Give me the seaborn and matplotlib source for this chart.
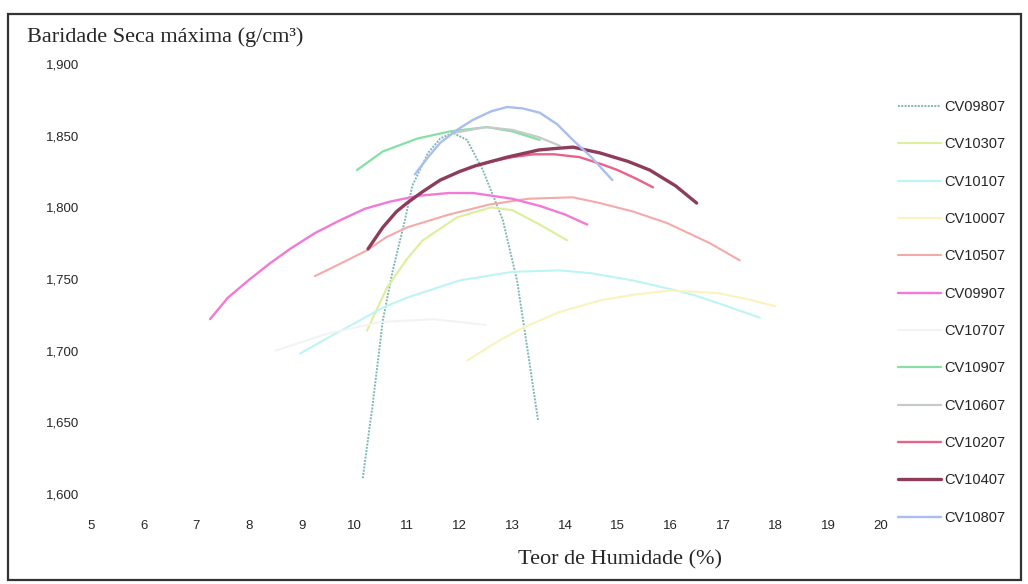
import matplotlib
matplotlib.use('Agg')
import matplotlib.pyplot as plt
from matplotlib.patches import Rectangle
import numpy as np
import pandas as pd
import seaborn as sns

# series, in legend order (x = teor de humidade %, y = baridade seca x1000)
names = ['CV09807', 'CV10307', 'CV10107', 'CV10007', 'CV10507', 'CV09907',
         'CV10707', 'CV10907', 'CV10607', 'CV10207', 'CV10407', 'CV10807']

cv09807_x = [10.16, 10.35, 10.54, 10.73, 10.96, 11.1, 11.4, 11.63, 11.87, 12.14, 12.44, 12.67, 12.82, 13.09, 13.3, 13.49]
cv09807_y = [1611, 1663, 1721, 1756, 1791, 1815, 1838, 1848, 1852, 1847, 1826, 1805, 1791, 1749, 1698, 1651]

cv10307_x = [10.24, 10.62, 11.0, 11.3, 11.95, 12.6, 13.0, 13.52, 14.04]
cv10307_y = [1714, 1744, 1764, 1777, 1793, 1800, 1798, 1788, 1777]

cv10107_x = [8.97, 9.5, 10.0, 10.54, 11.0, 12.0, 13.0, 13.9, 14.5, 15.29, 16.0, 16.43, 17.0, 17.7]
cv10107_y = [1698, 1709, 1719, 1730, 1737, 1749, 1755, 1756, 1754, 1749, 1743, 1739, 1732, 1723]

cv10007_x = [12.14, 12.7, 13.2, 13.9, 14.66, 15.3, 16.0, 16.5, 16.94, 17.57, 18.0]
cv10007_y = [1693, 1706, 1716, 1727, 1735, 1739, 1742, 1741, 1740, 1735, 1731]

cv10507_x = [9.25, 9.75, 10.24, 10.6, 11.0, 11.8, 12.57, 13.3, 14.15, 14.66, 15.3, 15.94, 16.75, 17.32]
cv10507_y = [1752, 1761, 1770, 1779, 1786, 1795, 1802, 1806, 1807, 1803, 1797, 1789, 1775, 1763]

cv09907_x = [7.26, 7.6, 8.02, 8.4, 8.78, 9.25, 9.73, 10.2, 10.68, 11.2, 11.8, 12.25, 13.0, 13.52, 14.0, 14.42]
cv09907_y = [1722, 1737, 1750, 1761, 1771, 1782, 1791, 1799, 1804, 1808, 1810, 1810, 1806, 1801, 1795, 1788]

cv10707_x = [8.5, 9.5, 10.5, 11.5, 12.5]
cv10707_y = [1700, 1712, 1720, 1722, 1718]

cv10907_x = [10.05, 10.54, 11.2, 11.82, 12.52, 13.0, 13.52]
cv10907_y = [1826, 1839, 1848, 1853, 1856, 1853, 1847]

cv10607_x = [11.9, 12.5, 13.0, 13.5, 13.9]
cv10607_y = [1852, 1856, 1854, 1849, 1843]

cv10207_x = [12.2, 12.6, 13.0, 13.4, 13.8, 14.28, 14.7, 15.0, 15.35, 15.67]
cv10207_y = [1828, 1832, 1835, 1837, 1837, 1835, 1830, 1826, 1820, 1814]

cv10407_x = [10.26, 10.54, 10.8, 11.0, 11.3, 11.63, 12.0, 12.3, 12.9, 13.5, 13.8, 14.15, 14.66, 15.2, 15.61, 16.1, 16.5]
cv10407_y = [1771, 1786, 1797, 1803, 1811, 1819, 1825, 1829, 1835, 1840, 1841, 1842, 1838, 1832, 1826, 1815, 1803]

cv10807_x = [11.15, 11.4, 11.63, 11.95, 12.25, 12.6, 12.9, 13.2, 13.52, 13.85, 14.15, 14.5, 14.9]
cv10807_y = [1823, 1835, 1845, 1854, 1861, 1867, 1870, 1869, 1866, 1858, 1847, 1835, 1819]

xs = [cv09807_x, cv10307_x, cv10107_x, cv10007_x, cv10507_x, cv09907_x,
      cv10707_x, cv10907_x, cv10607_x, cv10207_x, cv10407_x, cv10807_x]
ys = [cv09807_y, cv10307_y, cv10107_y, cv10007_y, cv10507_y, cv09907_y,
      cv10707_y, cv10907_y, cv10607_y, cv10207_y, cv10407_y, cv10807_y]

x_ticks = list(range(5, 21))
y_ticks = [1600, 1650, 1700, 1750, 1800, 1850, 1900]
y_tick_labels = ['1,600', '1,650', '1,700', '1,750', '1,800', '1,850', '1,900']

colors = ['#7db8b2', '#dcef9a', '#bdf4f4', '#faf3bd', '#f4aaa8', '#f27ad6',
          '#f3f3f3', '#86e0a4', '#c6caca', '#e8628a', '#8e3c5c', '#a8bef0']
widths = [1.4, 1.5, 1.5, 1.5, 1.5, 1.7, 1.5, 1.6, 1.6, 1.7, 2.4, 1.7]
styles = [(0, (1, 0.7)), '-', '-', '-', '-', '-', '-', '-', '-', '-', '-', '-']

rows = []
for n, x, y in zip(names, xs, ys):
    for a, b in zip(x, y):
        rows.append({'amostra': n, 'humidade': a, 'baridade': b})
df = pd.DataFrame(rows)

sns.set_style('white')
plt.rcParams['font.family'] = ['Liberation Sans', 'DejaVu Sans']

fig = plt.figure(figsize=(10.28, 5.84), dpi=100)
ax = fig.add_axes([80.5 / 1028, (584 - 494) / 584, 811 / 1028, 430 / 584])

for n, c, w, s in zip(names, colors, widths, styles):
    sub = df[df['amostra'] == n]
    sns.lineplot(data=sub, x='humidade', y='baridade', color=c, lw=w,
                 linestyle=s, sort=False, estimator=None, label=n, ax=ax)

ax.set_xlim(4.8, 20.2)
ax.set_ylim(1600, 1900)
ax.set_xticks(x_ticks)
ax.set_xticklabels([str(t) for t in x_ticks], fontsize=9.5)
ax.set_yticks(y_ticks)
ax.set_yticklabels(y_tick_labels, fontsize=9.5)
ax.tick_params(axis='both', length=0)
ax.tick_params(axis='x', pad=19)
ax.tick_params(axis='y', pad=1)
ax.set_xlabel('')
ax.set_ylabel('')
for sp in ax.spines.values():
    sp.set_visible(False)

ax.legend(loc='upper left', bbox_to_anchor=(898 / 1028, 1 - 100 / 584),
          bbox_transform=fig.transFigure, frameon=False, fontsize=10.5,
          handlelength=2.95, handletextpad=0.25, labelspacing=1.6,
          borderpad=0, borderaxespad=0)

fig.text(27 / 1028, 1 - 37 / 584, 'Baridade Seca máxima (g/cm³)',
         family='Liberation Serif', fontsize=16, va='center', ha='left')
fig.text(620 / 1028, 1 - 560 / 584, 'Teor de Humidade (%)',
         family='Liberation Serif', fontsize=16, va='center', ha='center')

fig.patches.append(Rectangle((8 / 1028, 4 / 584), 1013 / 1028, 566 / 584,
                             transform=fig.transFigure, fill=False,
                             edgecolor='#333333', lw=1.6))

fig.savefig('out.png', dpi=100)
